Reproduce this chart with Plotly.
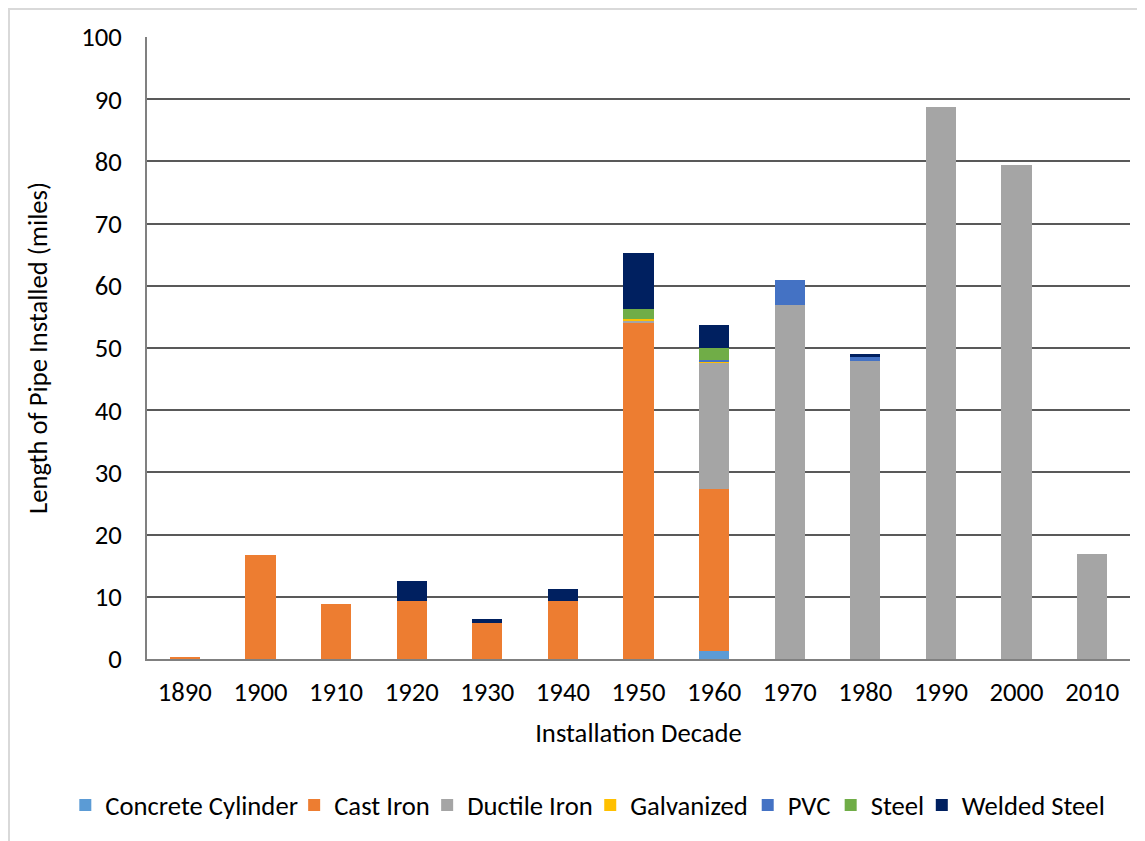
import plotly.graph_objects as go

decades = ["1890", "1900", "1910", "1920", "1930", "1940", "1950", "1960", "1970", "1980", "1990", "2000", "2010"]

concrete_cylinder = [0, 0, 0, 0, 0, 0, 0, 1.3, 0, 0, 0, 0, 0]
cast_iron = [0.3, 16.7, 8.8, 9.3, 5.8, 9.3, 54.1, 26.0, 0, 0, 0, 0, 0]
ductile_iron = [0, 0, 0, 0, 0, 0, 0.4, 20.3, 56.9, 47.9, 88.8, 79.5, 16.9]
galvanized = [0, 0, 0, 0, 0, 0, 0.1, 0.15, 0, 0, 0, 0, 0]
pvc = [0, 0, 0, 0, 0, 0, 0, 0.3, 4.0, 0.8, 0, 0, 0]
steel = [0, 0, 0, 0, 0, 0, 1.7, 1.9, 0, 0, 0, 0, 0]
welded_steel = [0, 0, 0, 3.3, 0.6, 1.9, 8.9, 3.7, 0, 0.3, 0, 0, 0]

series = [
    ("Concrete Cylinder", concrete_cylinder, "#5b9bd5"),
    ("Cast Iron", cast_iron, "#ed7d31"),
    ("Ductile Iron", ductile_iron, "#a5a5a5"),
    ("Galvanized", galvanized, "#ffc000"),
    ("PVC", pvc, "#4472c4"),
    ("Steel", steel, "#70ad47"),
    ("Welded Steel", welded_steel, "#002060"),
]

# legend entry anchor positions (paper fraction), one legend box per series
legend_x = [-0.0831, 0.1497, 0.2850, 0.4509, 0.6111, 0.6955, 0.7882]

FONT = "Carlito, Lato, 'Open Sans', sans-serif"
FS = 26.67

fig = go.Figure()
legend_layouts = {}
for i, (name, vals, color) in enumerate(series):
    key = f"legend{i + 2}"
    fig.add_trace(go.Bar(
        x=decades, y=vals, name=name,
        marker=dict(color=color, line=dict(width=0)),
        legend=key,
    ))
    legend_layouts[key] = dict(
        orientation="h",
        x=legend_x[i], xanchor="left",
        y=-0.235, yanchor="middle",
        font=dict(size=FS, family=FONT),
        itemwidth=30,
        bgcolor="rgba(0,0,0,0)",
    )

fig.update_layout(
    barmode="stack",
    bargap=0.6,
    width=1137, height=833,
    margin=dict(l=139, r=15, t=29, b=182, autoexpand=False),
    paper_bgcolor="white",
    plot_bgcolor="white",
    font=dict(family=FONT, size=FS, color="#000000"),
    xaxis=dict(
        type="category",
        title=dict(text="Installation Decade", font=dict(size=FS), standoff=16),
        showline=True, linecolor="#808080", linewidth=2,
        tickfont=dict(size=FS),
        ticks="",
        ticklabelstandoff=8,
        showgrid=False,
    ),
    yaxis=dict(
        range=[0, 100],
        dtick=10,
        title=dict(text="Length of Pipe Installed (miles)", font=dict(size=FS), standoff=26),
        showline=True, linecolor="#808080", linewidth=2,
        gridcolor="#595959", gridwidth=2,
        tickfont=dict(size=FS),
        ticks="",
        ticklabelstandoff=18,
        zeroline=False,
    ),
    shapes=[dict(
        type="rect", xref="paper", yref="paper",
        x0=-0.1404, y0=-0.4, x1=1.05, y1=1.045,
        line=dict(color="#d9d9d9", width=2),
        fillcolor="rgba(0,0,0,0)",
        layer="below",
    )],
    **legend_layouts,
)

fig.write_html("out.html")
